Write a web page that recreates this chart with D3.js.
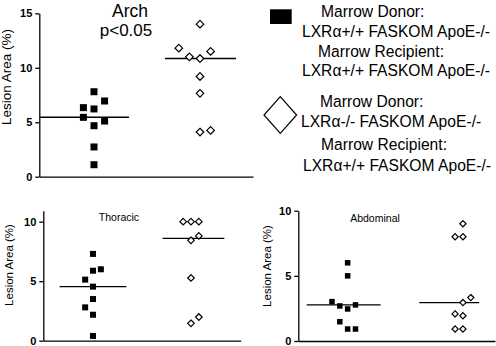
<!DOCTYPE html>
<html>
<head>
<meta charset="utf-8">
<script src="https://cdn.jsdelivr.net/npm/d3@7"></script>
<style>
  body { margin: 0; background: #fff; }
  svg { display: block; font-family: "Liberation Sans", Arial, sans-serif; }
  .tick text { font-weight: bold; font-size: 11px; fill: #000; }
  .tick line, .domain { stroke: #000; stroke-width: 1.3; }
</style>
</head>
<body>
<svg id="chart" width="496" height="346"></svg>
<script>
// values (lesion area, %)
// slot = which little column the point sits in around its group centre
const archWT = [7.8, 6.34, 6.22, 6.95, 5.45, 4.68, 5.11, 2.73, 1.1];
const archWTSlot = [0, -1, 0, 1, -1, 0, 1, 0, 0];
const archKO = [14.0, 11.8, 11.0, 10.85, 11.5, 9.2, 7.65, 4.1, 4.25];
const archKOSlot = [0, -2, -1, 0, 1, 0, 0, 0, 1];
const archMedians = [5.45, 10.85];

const thorWT = [7.29, 5.88, 6.0, 5.13, 4.54, 3.5, 2.8, 2.18, 0.4];
const thorWTSlot = [0, 0, 1, -1, 0, 0, -1, 0, 0];
const thorKO = [10, 10, 10, 8.43, 8.8, 5.27, 1.99, 1.46];
const thorKOSlot = [-1, 0, 1, 0, 1, 0, 1, 0];
const thorMedians = [4.54, 8.6];

const abdWT = [6.0, 5.0, 3.02, 2.69, 2.77, 2.46, 1.48, 0.92, 0.92];
const abdWTSlot = [0, 0, -2, -1, 1, 0, -1, 0, 1];
const abdKO = [9.0, 8.0, 8.0, 3.33, 2.95, 2.08, 1.94, 0.92, 0.92];
const abdKOSlot = [0, -1, 0, 1, 0, -1, 0, -1, 0];
const abdMedians = [2.77, 2.95];

const legendWT = ["Marrow Donor:", "LXRα+/+ FASKOM ApoE-/-", "Marrow Recipient:", "LXRα+/+ FASKOM ApoE-/-"];
const legendKO = ["Marrow Donor:", "LXRα-/- FASKOM ApoE-/-", "Marrow Recipient:", "LXRα+/+ FASKOM ApoE-/-"];

const svg = d3.select("#chart");

const panels = [
  { wt: archWT, wtSlot: archWTSlot, ko: archKO, koSlot: archKOSlot, med: archMedians,
    yDom: [0, 15], yRange: [176.7, 13.3], ticks: [0, 5, 10, 15],
    xDom: [0.484, 2.5], xRange: [39.3, 253], slot: 0.1,
    lines: [[-0.51, 0.33], [-0.33, 0.34]], sq: 7, dm: 3.8, lw: 1.5,
    ylab: { x: 11, y: 77, size: 13.5 } },
  { wt: thorWT, wtSlot: thorWTSlot, ko: thorKO, koSlot: thorKOSlot, med: thorMedians,
    yDom: [0, 10.92], yRange: [340.7, 210.7], ticks: [0, 5, 10],
    xDom: [0.493, 2.507], xRange: [43.3, 240.7], slot: 0.08,
    lines: [[-0.34, 0.34], [-0.29, 0.34]], sq: 6, dm: 3.3, lw: 1.3,
    ylab: { x: 12.5, y: 265, size: 11.5 } },
  { wt: abdWT, wtSlot: abdWTSlot, ko: abdKO, koSlot: abdKOSlot, med: abdMedians,
    yDom: [0, 10], yRange: [341, 210.7], ticks: [0, 5, 10],
    xDom: [0.572, 2.278], xRange: [298.3, 495], slot: 0.068,
    lines: [[-0.355, 0.286], [-0.379, 0.141]], sq: 5.5, dm: 3.1, lw: 1.3,
    ylab: { x: 271, y: 266, size: 11.5 } }
];

panels.forEach(p => {
  const y = d3.scaleLinear().domain(p.yDom).range(p.yRange);
  const x = d3.scaleLinear().domain(p.xDom).range(p.xRange);
  const g = svg.append("g");

  g.append("g")
    .attr("transform", `translate(${p.xRange[0]},0)`)
    .call(d3.axisLeft(y).tickValues(p.ticks).tickFormat(d3.format("d"))
      .tickSize(4).tickPadding(3).tickSizeOuter(0));

  g.append("g")
    .attr("transform", `translate(0,${p.yRange[0]})`)
    .call(d3.axisBottom(x).tickValues([]).tickSizeOuter(0));

  // median lines
  g.selectAll(".med")
    .data(p.med)
    .join("line")
    .attr("x1", (d, i) => x(i + 1 + p.lines[i][0]))
    .attr("x2", (d, i) => x(i + 1 + p.lines[i][1]))
    .attr("y1", d => y(d))
    .attr("y2", d => y(d))
    .attr("stroke", "#000")
    .attr("stroke-width", p.lw);

  g.selectAll(".sq")
    .data(p.wt)
    .join("rect")
    .attr("x", (d, i) => x(1 + p.wtSlot[i] * p.slot) - p.sq / 2)
    .attr("y", d => y(d) - p.sq / 2)
    .attr("width", p.sq)
    .attr("height", p.sq)
    .attr("fill", "#000");

  g.selectAll(".dm")
    .data(p.ko)
    .join("path")
    .attr("d", (d, i) => {
      const cx = x(2 + p.koSlot[i] * p.slot), cy = y(d), r = p.dm;
      return `M${cx},${cy - r}L${cx + r},${cy}L${cx},${cy + r}L${cx - r},${cy}Z`;
    })
    .attr("fill", "#fff")
    .attr("stroke", "#000")
    .attr("stroke-width", 1.2);

  g.append("text")
    .attr("transform", `translate(${p.ylab.x},${p.ylab.y}) rotate(-90)`)
    .attr("text-anchor", "middle")
    .style("font-size", p.ylab.size + "px")
    .text("Lesion Area (%)");
});

// titles
svg.append("text").attr("x", 130).attr("y", 17.3).attr("text-anchor", "middle")
  .style("font-size", "17.5px").text("Arch");
svg.append("text").attr("x", 126).attr("y", 35.7).attr("text-anchor", "middle")
  .style("font-size", "17px").text("p<0.05");
svg.append("text").attr("x", 119).attr("y", 220.7).attr("text-anchor", "middle")
  .style("font-size", "10.5px").text("Thoracic");
svg.append("text").attr("x", 375).attr("y", 221.7).attr("text-anchor", "middle")
  .style("font-size", "10.5px").text("Abdominal");

// legend
const leg = svg.append("g");
leg.append("rect").attr("x", 270).attr("y", 9.3).attr("width", 21.7).attr("height", 14.7).attr("fill", "#000");
leg.append("path").attr("d", "M280.3,96.7L296.6,115L280.3,133.3L264,115Z")
  .attr("fill", "#fff").attr("stroke", "#000").attr("stroke-width", 1.2);

const wtPos = [[321, 16.7], [302, 36.5], [318, 56.5], [302, 76]];
const koPos = [[320, 106.5], [301, 127], [321, 150], [303, 171]];
leg.selectAll(".lwt").data(legendWT).join("text")
  .attr("transform", (d, i) => `translate(${wtPos[i][0]},${wtPos[i][1]}) scale(0.92,1)`)
  .style("font-size", "17px").text(d => d);
leg.selectAll(".lko").data(legendKO).join("text")
  .attr("transform", (d, i) => `translate(${koPos[i][0]},${koPos[i][1]}) scale(0.92,1)`)
  .style("font-size", "17px").text(d => d);
</script>
</body>
</html>
